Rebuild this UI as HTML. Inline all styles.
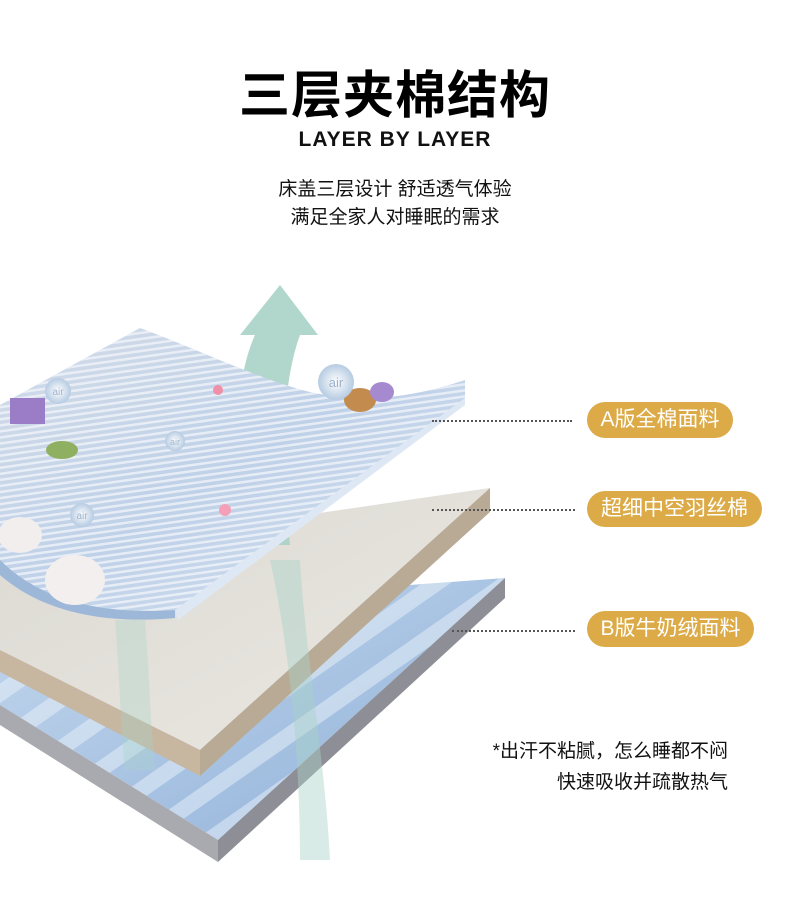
<!DOCTYPE html>
<html><head><meta charset="utf-8"><style>
body{margin:0;background:#fff;}
#w{position:relative;width:790px;height:919px;overflow:hidden;font-family:"Liberation Sans","Noto Sans CJK SC",sans-serif;}
.t{position:absolute;left:0;width:790px;text-align:center;color:#111;}
.pill{position:absolute;background:#dcab48;color:#fff;border-radius:18px;height:36px;line-height:36px;font-size:21px;text-align:center;}
.dot{position:absolute;border-top:2px dotted #555;height:0;}
.r{position:absolute;right:62px;font-size:19px;color:#111;text-align:right;}
</style></head><body><div id="w">
<div class="t" style="top:54px;font-size:51px;font-weight:bold;letter-spacing:1px;color:#000;">三层夹棉结构</div>
<div class="t" style="top:128px;font-size:21px;font-weight:bold;letter-spacing:1px;">LAYER BY LAYER</div>
<div class="t" style="top:174px;font-size:19px;">床盖三层设计 舒适透气体验</div>
<div class="t" style="top:202px;font-size:19px;">满足全家人对睡眠的需求</div>
<svg width="790" height="919" style="position:absolute;left:0;top:0">
<defs>
<linearGradient id="fl" x1="0" y1="0" x2="1" y2="1"><stop offset="0" stop-color="#c4d8ee"/><stop offset="1" stop-color="#8fb0d8"/></linearGradient>
<linearGradient id="bg" x1="0" y1="0" x2="1" y2="1"><stop offset="0" stop-color="#dcd9d3"/><stop offset="1" stop-color="#ebe8e2"/></linearGradient>
<linearGradient id="tp" x1="0" y1="0" x2="1" y2="1"><stop offset="0" stop-color="#d3dce8"/><stop offset="0.5" stop-color="#bfd1e8"/><stop offset="1" stop-color="#d5e0ef"/></linearGradient>
<pattern id="st" width="8" height="6" patternUnits="userSpaceOnUse" patternTransform="rotate(-8)"><rect y="0" width="8" height="2.5" fill="#f2f5fa" opacity="0.75"/></pattern>
<pattern id="wv" width="60" height="40" patternUnits="userSpaceOnUse" patternTransform="rotate(-35)"><rect y="0" width="60" height="16" fill="#eaf1fa" opacity="0.5"/></pattern>
<radialGradient id="bub"><stop offset="0" stop-color="#fff"/><stop offset="1" stop-color="#b6cbe2"/></radialGradient>
</defs>
<polygon points="0,615 505,578 218,840 0,705" fill="url(#fl)"/>
<polygon points="0,615 505,578 218,840 0,705" fill="url(#wv)"/>
<polygon points="0,705 218,840 218,862 0,725" fill="#a9a9b0"/>
<polygon points="218,840 505,578 505,598 218,862" fill="#8e8f96"/>
<polygon points="0,560 490,488 200,750 0,650" fill="url(#bg)"/>
<polygon points="0,650 200,750 200,776 0,672" fill="#c7b7a1"/>
<polygon points="200,750 490,488 490,512 200,776" fill="#b9aa95"/>
<path d="M232,545 C240,470 230,390 255,335 L240,335 L280,285 L318,335 L300,335 C280,390 282,470 290,545 Z" fill="#a9d3c8" opacity="0.9"/>
<path d="M270,560 C290,650 300,760 300,860 L330,860 C325,760 305,650 300,560 Z" fill="#a9d3c8" opacity="0.45"/>
<path d="M115,620 C120,680 120,720 125,770 L155,770 C150,720 150,680 145,620 Z" fill="#a9d3c8" opacity="0.35"/>
<path d="M0,405 L140,328 C200,350 260,380 310,392 C370,405 420,395 465,380 L465,398 C380,470 260,560 175,610 C100,615 40,600 0,560 Z" fill="url(#tp)"/>
<path d="M0,405 L140,328 C200,350 260,380 310,392 C370,405 420,395 465,380 L465,398 C380,470 260,560 175,610 C100,615 40,600 0,560 Z" fill="url(#st)"/>
<path d="M0,560 C40,600 100,615 175,610 L175,618 C100,625 40,610 0,575 Z" fill="#9db7d8"/>
<path d="M175,610 L465,398 L465,405 L178,620 Z" fill="#dde8f4"/>
<g><rect x="10" y="398" width="35" height="26" fill="#9b7cc6"/><ellipse cx="62" cy="450" rx="16" ry="9" fill="#8fb060"/>
<ellipse cx="20" cy="535" rx="22" ry="18" fill="#f2eeee"/><ellipse cx="75" cy="580" rx="30" ry="25" fill="#f3efef"/><ellipse cx="360" cy="400" rx="16" ry="12" fill="#c48b4e"/><ellipse cx="382" cy="392" rx="12" ry="10" fill="#a68ad0"/>
<circle cx="225" cy="510" r="6" fill="#f4a0b8"/><circle cx="218" cy="390" r="5" fill="#f08fa8"/></g>
<g font-family="Liberation Sans" fill="#9eb3cc" text-anchor="middle">
<circle cx="336" cy="382" r="18" fill="url(#bub)"/><text x="336" y="387" font-size="13">air</text>
<circle cx="58" cy="391" r="13" fill="url(#bub)"/><text x="58" y="395" font-size="10">air</text>
<circle cx="175" cy="441" r="10" fill="url(#bub)"/><text x="175" y="445" font-size="9">air</text>
<circle cx="82" cy="515" r="12" fill="url(#bub)"/><text x="82" y="519" font-size="10">air</text>
</g>
</svg>
<div class="dot" style="left:432px;top:420px;width:140px;"></div>
<div class="dot" style="left:432px;top:509px;width:143px;"></div>
<div class="dot" style="left:452px;top:630px;width:123px;"></div>
<div class="pill" style="left:587px;top:402px;width:146px;">A版全棉面料</div>
<div class="pill" style="left:587px;top:491px;width:175px;">超细中空羽丝棉</div>
<div class="pill" style="left:587px;top:611px;width:167px;">B版牛奶绒面料</div>
<div class="r" style="top:736px;">*出汗不粘腻，怎么睡都不闷</div>
<div class="r" style="top:767px;">快速吸收并疏散热气</div>
</div></body></html>
